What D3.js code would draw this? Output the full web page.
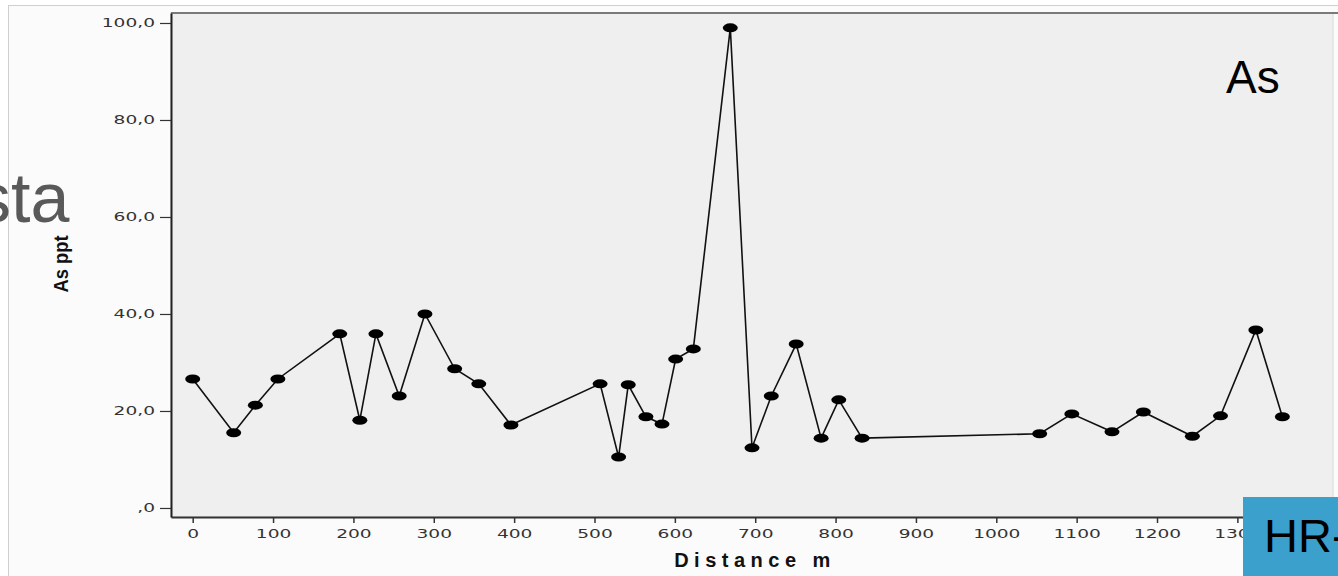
<!DOCTYPE html>
<html>
<head>
<meta charset="utf-8">
<script src="https://cdn.jsdelivr.net/npm/d3@7"></script>
<style>
  body { margin: 0; background: #fff; overflow: hidden; }
  svg { display: block; }
</style>
</head>
<body>
<svg width="1338" height="576"></svg>
<script>
// distance along profile (m) and As (ppt)
var distance = [0, 51, 78, 106, 183, 208, 228, 257, 289, 326, 356, 396,
  507, 530, 542, 564, 584, 601, 623, 669, 696, 720, 751, 782, 804, 833,
  1054, 1094, 1144, 1183, 1244, 1279, 1323, 1356];
var asPpt = [26.6, 15.5, 21.2, 26.6, 35.9, 18.1, 35.9, 23.1, 40.0, 28.7, 25.6, 17.1,
  25.6, 10.5, 25.4, 18.8, 17.3, 30.7, 32.8, 99.0, 12.4, 23.1, 33.8, 14.4, 22.3, 14.4,
  15.3, 19.4, 15.7, 19.8, 14.8, 19.0, 36.7, 18.8];
var xTicks = [0, 100, 200, 300, 400, 500, 600, 700, 800, 900, 1000, 1100, 1200, 1300];
var yTicks = [0, 20, 40, 60, 80, 100];

var data = distance.map(function(d, i) { return {d: d, v: asPpt[i]}; });

var svg = d3.select("svg");

// outer frame
svg.append("rect")
    .attr("x", 8.5).attr("y", 5.5)
    .attr("width", 1400).attr("height", 600)
    .attr("fill", "#fbfbfb")
    .attr("stroke", "#cfcfcf");

var plotL = 171, plotR = 1333, plotT = 13, plotB = 517;

var x = d3.scaleLinear().domain([-27, 1419]).range([plotL, plotR]);
var y = d3.scaleLinear().domain([-1.86, 102.06]).range([plotB, plotT]);

// plot area
svg.append("rect")
    .attr("x", plotL).attr("y", plotT)
    .attr("width", plotR - plotL).attr("height", plotB - plotT)
    .attr("fill", "#efefef")
    .attr("stroke", "#d8d8d8");
svg.append("line")
    .attr("x1", plotL).attr("x2", 1338)
    .attr("y1", plotT).attr("y2", plotT)
    .attr("stroke", "#7a7a7a").attr("stroke-width", 2);

var fmt = function(v) { return v == 0 ? ",0" : v.toFixed(1).replace(".", ","); };
var sx = 1.55;

var xAxis = svg.append("g")
    .attr("transform", "translate(0," + plotB + ")")
    .call(d3.axisBottom(x).tickValues(xTicks).tickFormat(d3.format("d"))
      .tickSize(6).tickSizeOuter(0).tickPadding(6));
xAxis.select(".domain").attr("stroke", "#333").attr("stroke-width", 2);
xAxis.selectAll(".tick line").attr("stroke", "#333").attr("stroke-width", 1.5);
xAxis.selectAll(".tick text")
    .attr("font-family", "Verdana, 'DejaVu Sans', sans-serif")
    .attr("font-size", 12)
    .attr("fill", "#333")
    .attr("transform", "scale(" + sx + ",1)");

var yAxis = svg.append("g")
    .attr("transform", "translate(" + plotL + ",0)")
    .call(d3.axisLeft(y).tickValues(yTicks).tickFormat(fmt).tickSize(11).tickSizeOuter(0).tickPadding(4));
yAxis.select(".domain").attr("stroke", "#222").attr("stroke-width", 2);
yAxis.selectAll(".tick line").attr("stroke", "#333").attr("stroke-width", 1.2);
yAxis.selectAll(".tick text")
    .attr("font-family", "Verdana, 'DejaVu Sans', sans-serif")
    .attr("font-size", 12)
    .attr("fill", "#333")
    .attr("x", -16 / sx)
    .attr("transform", "scale(" + sx + ",1)");

// axis titles
svg.append("text")
    .attr("x", 755).attr("y", 567)
    .attr("text-anchor", "middle")
    .attr("font-family", "Arial, 'Liberation Sans', sans-serif")
    .attr("font-weight", "bold")
    .attr("font-size", 20)
    .attr("letter-spacing", 5.5)
    .attr("fill", "#111")
    .text("Distance m");

svg.append("text")
    .attr("transform", "translate(68,264) rotate(-90)")
    .attr("text-anchor", "middle")
    .attr("font-family", "Arial, 'Liberation Sans', sans-serif")
    .attr("font-weight", "bold")
    .attr("font-size", 20)
    .attr("fill", "#111")
    .attr("textLength", 57)
    .attr("lengthAdjust", "spacingAndGlyphs")
    .text("As ppt");

// series
var line = d3.line()
    .x(function(d) { return x(d.d); })
    .y(function(d) { return y(d.v); });

svg.append("path")
    .datum(data)
    .attr("d", line)
    .attr("fill", "none")
    .attr("stroke", "#111")
    .attr("stroke-width", 1.6);

svg.append("g")
  .selectAll("ellipse")
  .data(data)
  .enter().append("ellipse")
    .attr("cx", function(d) { return x(d.d); })
    .attr("cy", function(d) { return y(d.v); })
    .attr("rx", 7.5)
    .attr("ry", 4.5)
    .attr("fill", "#000");

// slide overlays
svg.append("text")
    .attr("x", 1226).attr("y", 93)
    .attr("font-family", "Arial, 'Liberation Sans', sans-serif")
    .attr("font-size", 46)
    .attr("fill", "#000")
    .text("As");

svg.append("text")
    .attr("x", -24).attr("y", 222)
    .attr("font-family", "Arial, 'Liberation Sans', sans-serif")
    .attr("font-size", 70)
    .attr("fill", "#595959")
    .text("sta");

svg.append("rect")
    .attr("x", 1243).attr("y", 497)
    .attr("width", 100).attr("height", 80)
    .attr("fill", "#3ba1cc");
svg.append("text")
    .attr("x", 1264).attr("y", 552)
    .attr("font-family", "Arial, 'Liberation Sans', sans-serif")
    .attr("font-size", 47)
    .attr("fill", "#000")
    .text("HR-");
</script>
</body>
</html>
